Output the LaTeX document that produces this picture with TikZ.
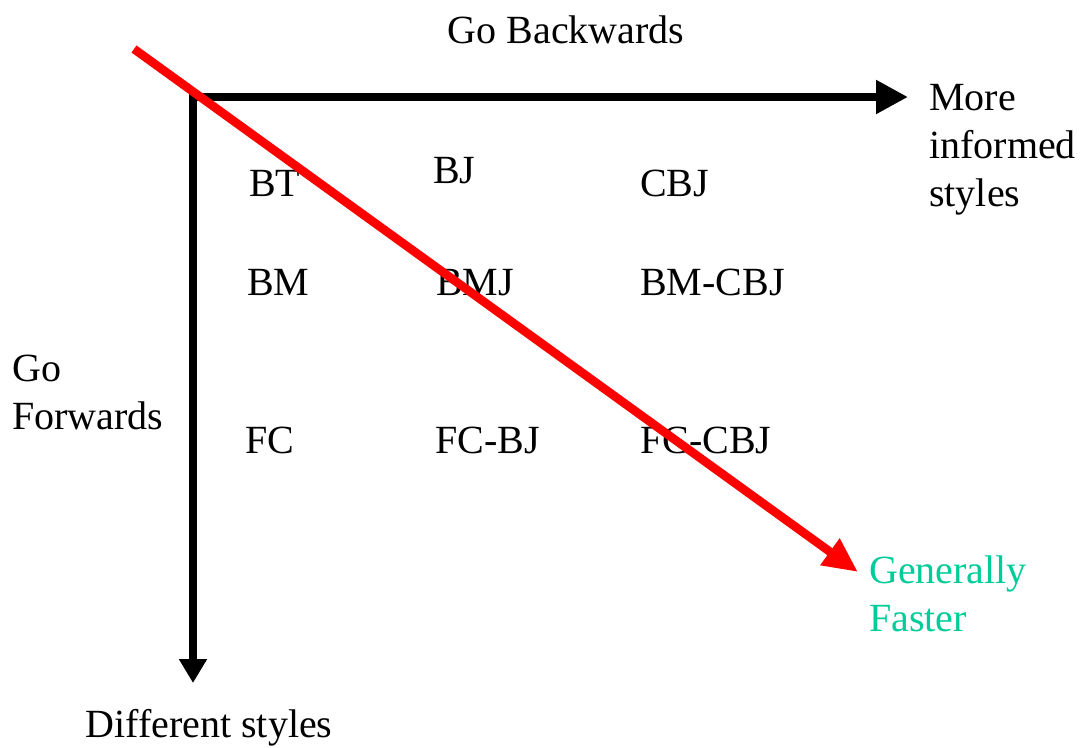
\documentclass[tikz,border=0pt]{standalone}
\usepackage{fontspec}
\setmainfont{Liberation Serif}
\usetikzlibrary{arrows.meta}
\definecolor{fastgreen}{RGB}{0,204,153}
\definecolor{fastred}{RGB}{255,0,0}
\begin{document}
\begin{tikzpicture}[x=0.75pt,y=-0.75pt,
  lbl/.style={anchor=base west,inner sep=0pt,font=\fontsize{30}{36}\selectfont},
  clbl/.style={anchor=base,inner sep=0pt,font=\fontsize{30}{36}\selectfont},
  axis/.style={line width=6.5pt,line join=miter,{Triangle[length=18pt,width=20pt]}-{Triangle[length=24pt,width=24pt]}},
  faster/.style={line width=6.5pt,draw=fastred,-{Triangle[length=26pt,width=23pt]}}]
\useasboundingbox (0,0) rectangle (1081,747);
% axes
\coordinate (corner) at (193,97);
\coordinate (hend) at (908,97);
\coordinate (vend) at (193,683);
\draw[axis] (vend) -- (corner) -- (hend);
% labels
\node[clbl] (back) at (566,43) {Go Backwards};
\node[lbl,align=left] (more) at (929,206) {More\\informed\\styles};
\node[lbl,align=left] (fwd) at (12,429) {Go\\Forwards};
\node[clbl] (diff) at (209,737) {Different styles};
% grid
\node[lbl] (bt) at (249,196) {BT};
\node[lbl] (bj) at (433,183) {BJ};
\node[lbl] (cbj) at (640,196) {CBJ};
\node[lbl] (bm) at (247,295) {BM};
\node[lbl] (bmj) at (436,295) {BMJ};
\node[lbl] (bmcbj) at (640,295) {BM-CBJ};
\node[lbl] (fc) at (245,453) {FC};
\node[lbl] (fcbj) at (435,453) {FC-BJ};
\node[lbl] (fccbj) at (640,453) {FC-CBJ};
% faster arrow
\node[lbl,align=left,text=fastgreen] (gen) at (869,631) {Generally\\Faster};
\coordinate (rstart) at (134,49);
\coordinate (rend) at (858,572);
\draw[faster] (rstart) -- (rend);
\end{tikzpicture}
\end{document}
